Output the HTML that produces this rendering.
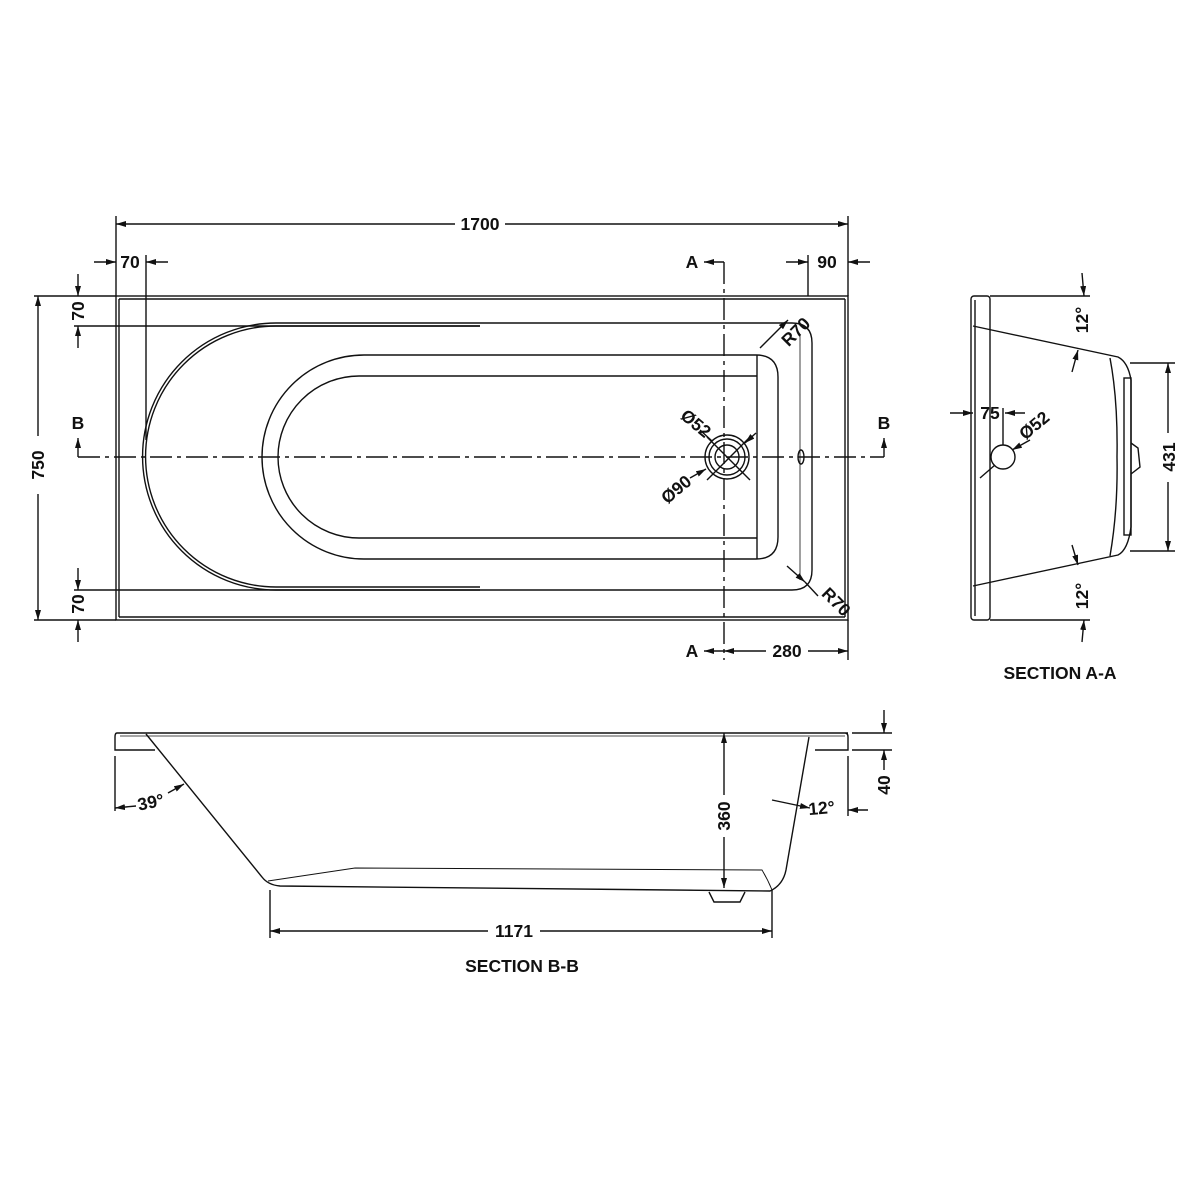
<!DOCTYPE html>
<html><head><meta charset="utf-8"><style>
html,body{margin:0;padding:0;background:#fff}
svg{display:block}
text{font-family:"Liberation Sans",sans-serif;font-weight:bold;font-size:17.5px;fill:#111}
</style></head><body>
<svg width="1200" height="1200" viewBox="0 0 1200 1200" xmlns="http://www.w3.org/2000/svg">
<defs>
<marker id="ar" viewBox="0 0 10 6" refX="10" refY="3" markerWidth="10" markerHeight="6" orient="auto-start-reverse" markerUnits="userSpaceOnUse"><path d="M0,0 L10,3 L0,6 z" fill="#111"/></marker>
</defs>
<g stroke="#111" stroke-width="1.4" fill="none">
<!-- TOP VIEW -->
<rect x="116" y="296" width="732" height="324"/>
<line x1="119" y1="299" x2="845" y2="299"/>
<line x1="119" y1="299" x2="119" y2="617"/>
<line x1="119" y1="617" x2="845" y2="617"/>
<line x1="845" y1="299" x2="845" y2="617"/>
<path d="M276,323 L792,323 Q812,323 812,343 L812,570 Q812,590 792,590 L276,590 A133.5,133.5 0 0 1 276,323 z"/>
<path d="M276,326 L480,326 M276,587 L480,587 M276,326 A130.5,130.5 0 0 0 276,587"/>
<line x1="800" y1="335" x2="800" y2="580" stroke-width="0.8"/>
<path d="M364,355 L756,355 Q778,355 778,377 L778,537 Q778,559 756,559 L364,559 A102,102 0 0 1 364,355 z"/>
<path d="M359,376 L757,376 M359,538 L757,538 M359,376 A81,81 0 0 0 359,538"/>
<line x1="757" y1="355" x2="757" y2="559"/>
<circle cx="727" cy="457" r="22"/><circle cx="727" cy="457" r="18"/><circle cx="727" cy="457" r="12"/>
<line x1="707" y1="437" x2="750" y2="480"/><line x1="750" y1="437" x2="707" y2="480"/>
<ellipse cx="801" cy="457" rx="3" ry="7"/>
<line x1="78" y1="457" x2="884" y2="457" stroke-dasharray="22,5,4,5"/>
<line x1="724" y1="262" x2="724" y2="660" stroke-dasharray="22,5,4,5"/>
<line x1="116" y1="216" x2="116" y2="296"/><line x1="848" y1="216" x2="848" y2="296"/>
<line x1="116" y1="224" x2="455" y2="224" marker-start="url(#ar)"/><line x1="505" y1="224" x2="848" y2="224" marker-end="url(#ar)"/>
<line x1="146" y1="255" x2="146" y2="440"/>
<line x1="94" y1="262" x2="116" y2="262" marker-end="url(#ar)"/><line x1="168" y1="262" x2="146" y2="262" marker-end="url(#ar)"/>
<line x1="808" y1="255" x2="808" y2="296"/>
<line x1="786" y1="262" x2="808" y2="262" marker-end="url(#ar)"/><line x1="870" y1="262" x2="848" y2="262" marker-end="url(#ar)"/>
<line x1="724" y1="262" x2="704" y2="262" marker-end="url(#ar)"/>
<line x1="724" y1="651" x2="704" y2="651" marker-end="url(#ar)"/>
<line x1="724" y1="651" x2="766" y2="651" marker-start="url(#ar)"/><line x1="808" y1="651" x2="848" y2="651" marker-end="url(#ar)"/>
<line x1="848" y1="620" x2="848" y2="660"/>
<line x1="34" y1="296" x2="116" y2="296"/><line x1="34" y1="620" x2="116" y2="620"/>
<line x1="38" y1="296" x2="38" y2="436" marker-start="url(#ar)"/><line x1="38" y1="494" x2="38" y2="620" marker-end="url(#ar)"/>
<line x1="74" y1="326" x2="480" y2="326"/><line x1="74" y1="590" x2="480" y2="590"/>
<line x1="78" y1="274" x2="78" y2="296" marker-end="url(#ar)"/><line x1="78" y1="348" x2="78" y2="326" marker-end="url(#ar)"/>
<line x1="78" y1="568" x2="78" y2="590" marker-end="url(#ar)"/><line x1="78" y1="642" x2="78" y2="620" marker-end="url(#ar)"/>
<line x1="78" y1="457" x2="78" y2="438" marker-end="url(#ar)"/><line x1="884" y1="457" x2="884" y2="438" marker-end="url(#ar)"/>
<line x1="760" y1="348" x2="788" y2="320" marker-end="url(#ar)"/>
<line x1="787" y1="566" x2="805" y2="582" marker-end="url(#ar)"/><line x1="805" y1="582" x2="818" y2="596"/>
<line x1="700" y1="430" x2="712" y2="441"/><line x1="756" y1="433" x2="745" y2="443" marker-end="url(#ar)"/>
<line x1="690" y1="478" x2="706" y2="469" marker-end="url(#ar)"/>

<!-- SECTION A-A -->
<rect x="971" y="296" width="19" height="324" rx="3"/>
<line x1="975" y1="300" x2="975" y2="616"/>
<path d="M973,326 L1118,357 Q1128,362 1131,380 L1131,527 Q1128,550 1118,555 L973,586"/>
<path d="M1110,358 Q1118,400 1117,457 Q1118,510 1110,556"/>
<rect x="1124" y="378" width="7" height="157"/>
<path d="M1131,443 L1138,448 L1140,467 L1131,474"/>
<circle cx="1003" cy="457" r="12"/>
<line x1="990" y1="296" x2="1090" y2="296"/><line x1="990" y1="620" x2="1090" y2="620"/>
<line x1="1082" y1="273" x2="1084" y2="296" marker-end="url(#ar)"/>
<line x1="1072" y1="372" x2="1078" y2="350" marker-end="url(#ar)"/>
<line x1="1072" y1="545" x2="1078" y2="565" marker-end="url(#ar)"/>
<line x1="1082" y1="642" x2="1084" y2="620" marker-end="url(#ar)"/>
<line x1="1130" y1="363" x2="1175" y2="363"/><line x1="1130" y1="551" x2="1175" y2="551"/>
<line x1="1168" y1="363" x2="1168" y2="433" marker-start="url(#ar)"/><line x1="1168" y1="482" x2="1168" y2="551" marker-end="url(#ar)"/>
<line x1="950" y1="413" x2="973" y2="413" marker-end="url(#ar)"/>
<line x1="1003" y1="408" x2="1003" y2="445"/>
<line x1="1025" y1="413" x2="1005" y2="413" marker-end="url(#ar)"/>
<line x1="980" y1="478" x2="995" y2="465"/><line x1="1030" y1="440" x2="1012" y2="450" marker-end="url(#ar)"/>

<!-- SECTION B-B -->
<path d="M117,733 L848,733 M117,733 Q115,733 115,737 L115,750 L155,750 M815,750 L848,750 L848,737 Q848,733 845,733"/>
<line x1="120" y1="736" x2="845" y2="736" stroke-width="0.8"/>
<path d="M146,734 L262,877 Q268,885 280,886 L770,891 Q783,885 786,870 L809,737"/>
<path d="M268,881 L355,868 L762,870 Q768,880 772,890" stroke-width="0.9"/>
<path d="M709,892 L714,902 L740,902 L745,892"/>
<line x1="115" y1="756" x2="115" y2="811"/>
<line x1="136" y1="806" x2="115" y2="808" marker-end="url(#ar)"/>
<line x1="168" y1="793" x2="184" y2="784" marker-end="url(#ar)"/>
<line x1="848" y1="756" x2="848" y2="816"/>
<line x1="772" y1="800" x2="810" y2="808" marker-end="url(#ar)"/>
<line x1="868" y1="810" x2="848" y2="810" marker-end="url(#ar)"/>
<line x1="724" y1="733" x2="724" y2="795" marker-start="url(#ar)"/><line x1="724" y1="837" x2="724" y2="888" marker-end="url(#ar)"/>
<line x1="270" y1="890" x2="270" y2="938"/><line x1="772" y1="890" x2="772" y2="938"/>
<line x1="270" y1="931" x2="488" y2="931" marker-start="url(#ar)"/><line x1="540" y1="931" x2="772" y2="931" marker-end="url(#ar)"/>
<line x1="852" y1="733" x2="892" y2="733"/><line x1="852" y1="750" x2="892" y2="750"/>
<line x1="884" y1="710" x2="884" y2="733" marker-end="url(#ar)"/>
<line x1="884" y1="770" x2="884" y2="750" marker-end="url(#ar)"/>
</g>
<g>
<text x="480" y="230" text-anchor="middle">1700</text>
<text x="130" y="268" text-anchor="middle">70</text>
<text x="827" y="268" text-anchor="middle">90</text>
<text x="692" y="268" text-anchor="middle">A</text>
<text x="692" y="657" text-anchor="middle">A</text>
<text x="787" y="657" text-anchor="middle">280</text>
<text x="78" y="429" text-anchor="middle">B</text>
<text x="884" y="429" text-anchor="middle">B</text>
<text transform="translate(44,465) rotate(-90)" text-anchor="middle">750</text>
<text transform="translate(84,311) rotate(-90)" text-anchor="middle">70</text>
<text transform="translate(84,604) rotate(-90)" text-anchor="middle">70</text>
<text transform="translate(800,336) rotate(-45)" text-anchor="middle">R70</text>
<text transform="translate(832,606) rotate(45)" text-anchor="middle">R70</text>
<text transform="translate(692,428) rotate(40)" text-anchor="middle">Ø52</text>
<text transform="translate(680,494) rotate(-40)" text-anchor="middle">Ø90</text>
<text transform="translate(1088,320) rotate(-90)" text-anchor="middle">12°</text>
<text transform="translate(1088,596) rotate(-90)" text-anchor="middle">12°</text>
<text transform="translate(1175,457) rotate(-90)" text-anchor="middle">431</text>
<text x="990" y="419" text-anchor="middle">75</text>
<text transform="translate(1038,430) rotate(-40)" text-anchor="middle">Ø52</text>
<text x="1060" y="679" text-anchor="middle">SECTION A-A</text>
<text transform="translate(152,808) rotate(-12)" text-anchor="middle">39°</text>
<text transform="translate(822,814) rotate(-5)" text-anchor="middle">12°</text>
<text transform="translate(730,816) rotate(-90)" text-anchor="middle">360</text>
<text transform="translate(890,785) rotate(-90)" text-anchor="middle">40</text>
<text x="514" y="937" text-anchor="middle">1171</text>
<text x="522" y="972" text-anchor="middle">SECTION B-B</text>
</g>
</svg>
</body></html>
